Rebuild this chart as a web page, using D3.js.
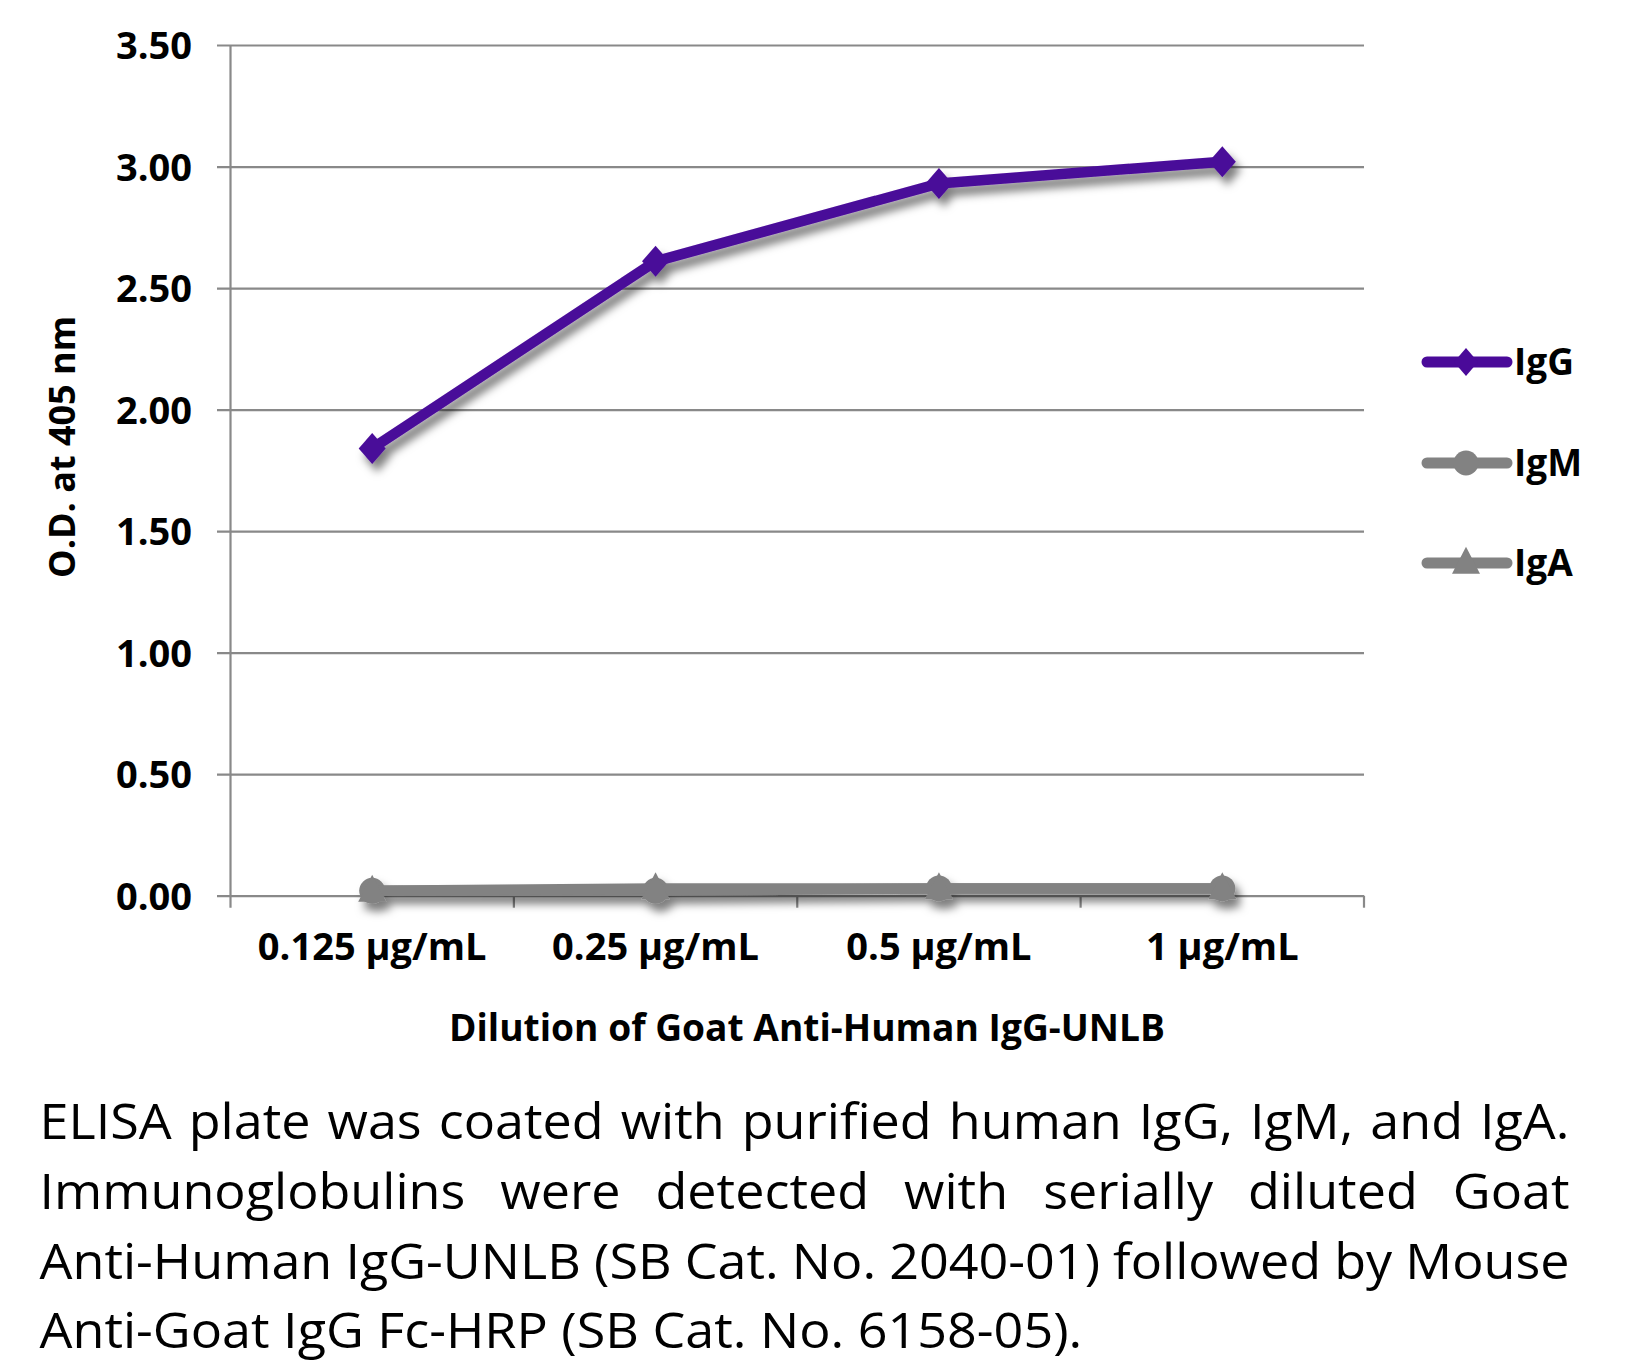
<!DOCTYPE html>
<html>
<head>
<meta charset="utf-8">
<script src="https://cdn.jsdelivr.net/npm/d3@7"></script>
<style>
  html, body { margin: 0; padding: 0; background: #fff; }
  svg { display: block; }
</style>
</head>
<body>
<svg id="chart" width="1627" height="1367"></svg>
<script>
// ---- data ----
const categories = ["0.125 µg/mL", "0.25 µg/mL", "0.5 µg/mL", "1 µg/mL"];
const igG = [1.84, 2.61, 2.93, 3.02];
const igM = [0.02, 0.02, 0.03, 0.03];
const igA = [0.02, 0.03, 0.03, 0.03];
const seriesNames = ["IgG", "IgM", "IgA"];
const yTicks = [0, 0.5, 1.0, 1.5, 2.0, 2.5, 3.0, 3.5];
const yTitle = "O.D. at 405 nm";
const xTitle = "Dilution of Goat Anti-Human IgG-UNLB";
const captionLines = [
  "ELISA plate was coated with purified human IgG, IgM, and IgA.",
  "Immunoglobulins were detected with serially diluted Goat",
  "Anti-Human IgG-UNLB (SB Cat. No. 2040-01) followed by Mouse",
  "Anti-Goat IgG Fc-HRP (SB Cat. No. 6158-05)."
];

// ---- layout ----
const svg = d3.select("#chart");
const plotLeft = 230.5, plotRight = 1364, plotTop = 45, plotBottom = 895.7;
const gridLeft = 217;
const purple = "#4a0a99", gray = "#828282", axisColor = "#898989";
const boldFont = "'Open Sans', 'Noto Sans', sans-serif";

const x = d3.scaleBand().domain(categories).range([plotLeft, plotRight]).padding(0);
const y = d3.scaleLinear().domain([0, 3.5]).range([plotBottom, plotTop]);
const cx = c => x(c) + x.bandwidth() / 2;

// shadow filter
const defs = svg.append("defs");
const f = defs.append("filter").attr("id", "shadow").attr("x", "-20%").attr("y", "-20%").attr("width", "140%").attr("height", "140%");
f.append("feDropShadow").attr("dx", 5).attr("dy", 8).attr("stdDeviation", 4)
  .attr("flood-color", "#000").attr("flood-opacity", 0.5);

// y grid + labels
const yAxis = d3.axisLeft(y).tickValues(yTicks).tickFormat(d3.format(".2f"))
  .tickSize(-(plotRight - gridLeft)).tickPadding(25);
const gy = svg.append("g").attr("transform", `translate(${gridLeft},0)`).call(yAxis);
gy.select(".domain").remove();
gy.selectAll(".tick line").attr("stroke", axisColor).attr("stroke-width", 2.2);
gy.selectAll(".tick text").attr("fill", "#000").attr("font-family", boldFont)
  .attr("font-weight", "bold").attr("font-size", 38).attr("dy", "0.36em");

// y axis line
svg.append("line").attr("x1", plotLeft).attr("x2", plotLeft).attr("y1", plotTop).attr("y2", plotBottom + 12)
  .attr("stroke", axisColor).attr("stroke-width", 2.2);

// x axis labels
const xAxis = d3.axisBottom(x).tickSize(0);
const gx = svg.append("g").attr("transform", `translate(0,${plotBottom})`).call(xAxis);
gx.select(".domain").remove();
gx.selectAll(".tick text").attr("fill", "#000").attr("font-family", boldFont)
  .attr("font-weight", "bold").attr("font-size", 38).attr("y", 64).attr("dy", 0);

// x boundary ticks
svg.append("g").selectAll("line").data(categories).join("line")
  .attr("x1", d => x(d) + x.step()).attr("x2", d => x(d) + x.step())
  .attr("y1", plotBottom).attr("y2", plotBottom + 12)
  .attr("stroke", axisColor).attr("stroke-width", 2.2);

// axis titles
svg.append("text").attr("transform", `translate(75,447) rotate(-90)`)
  .attr("text-anchor", "middle").attr("font-family", boldFont).attr("font-weight", "bold")
  .attr("font-size", 36).attr("fill", "#000").text(yTitle);

svg.append("text").attr("x", 449).attr("y", 1041)
  .attr("font-family", boldFont).attr("font-weight", "bold")
  .attr("font-size", 37).attr("fill", "#000")
  .attr("textLength", 716).attr("lengthAdjust", "spacingAndGlyphs").text(xTitle);

// markers
const diamondPath = (w, h) => `M0,${-h}L${w},0L0,${h}L${-w},0Z`;
const trianglePath = (w, h) => `M0,${-h * 0.6}L${w / 2},${h * 0.4}L${-w / 2},${h * 0.4}Z`;

const line = d3.line().x((d, i) => cx(categories[i])).y(d => y(d));

const seriesG = svg.append("g").attr("filter", "url(#shadow)");
// IgM
seriesG.append("path").datum(igM).attr("d", line).attr("fill", "none")
  .attr("stroke", gray).attr("stroke-width", 10.5).attr("stroke-linejoin", "round");
seriesG.append("g").selectAll("circle").data(igM).join("circle")
  .attr("cx", (d, i) => cx(categories[i])).attr("cy", d => y(d)).attr("r", 13).attr("fill", gray);
// IgA
seriesG.append("path").datum(igA).attr("d", line).attr("fill", "none")
  .attr("stroke", gray).attr("stroke-width", 10.5).attr("stroke-linejoin", "round");
seriesG.append("g").selectAll("path").data(igA).join("path")
  .attr("transform", (d, i) => `translate(${cx(categories[i])},${y(d)})`)
  .attr("d", trianglePath(28, 27)).attr("fill", gray);
// IgG
seriesG.append("path").datum(igG).attr("d", line).attr("fill", "none")
  .attr("stroke", purple).attr("stroke-width", 10.5).attr("stroke-linejoin", "round");
seriesG.append("g").selectAll("path").data(igG).join("path")
  .attr("transform", (d, i) => `translate(${cx(categories[i])},${y(d)})`)
  .attr("d", diamondPath(13.5, 15.5)).attr("fill", purple);

// legend
const legendY = [362, 463, 563];
const legendColors = [purple, gray, gray];
const lg = svg.append("g");
seriesNames.forEach((name, i) => {
  const g = lg.append("g").attr("transform", `translate(0,${legendY[i]})`);
  g.append("line").attr("x1", 1427).attr("x2", 1507).attr("y1", 0).attr("y2", 0)
    .attr("stroke", legendColors[i]).attr("stroke-width", 11).attr("stroke-linecap", "round");
  if (i === 0) g.append("path").attr("transform", "translate(1466,0)").attr("d", diamondPath(12, 14)).attr("fill", purple);
  if (i === 1) g.append("circle").attr("cx", 1466).attr("cy", 0).attr("r", 12.5).attr("fill", gray);
  if (i === 2) g.append("path").attr("transform", "translate(1466,0)").attr("d", trianglePath(28, 27)).attr("fill", gray);
  g.append("text").attr("x", 1514).attr("y", 13).attr("font-family", boldFont).attr("font-weight", "bold")
    .attr("font-size", 37).attr("fill", "#000").text(name);
});

// caption (justified)
const capLeft = 39.5, capWidth = 1530, lastLineWidth = 1043;
const capBaselines = [1139, 1209, 1279, 1348];
const capFont = "'Open Sans', 'Noto Sans', sans-serif";
const capSize = 50;
const probe = svg.append("text").attr("font-family", capFont).attr("font-size", capSize).text(captionLines[3]);
const natLast = probe.node().getComputedTextLength();
probe.remove();
const s = lastLineWidth / natLast;
captionLines.forEach((ln, li) => {
  const g = svg.append("g").attr("transform", `translate(${capLeft},${capBaselines[li]}) scale(${s},1)`);
  if (li === captionLines.length - 1) {
    g.append("text").attr("font-family", capFont).attr("font-size", capSize).attr("fill", "#000").text(ln);
    return;
  }
  const words = ln.split(" ");
  const nodes = words.map(w => g.append("text").attr("font-family", capFont).attr("font-size", capSize)
    .attr("fill", "#000").text(w));
  const widths = nodes.map(n => n.node().getComputedTextLength());
  const total = d3.sum(widths);
  const avail = capWidth / s;
  const gap = (avail - total) / (words.length - 1);
  let xx = 0;
  nodes.forEach((n, i) => { n.attr("x", xx); xx += widths[i] + gap; });
});
</script>
</body>
</html>
